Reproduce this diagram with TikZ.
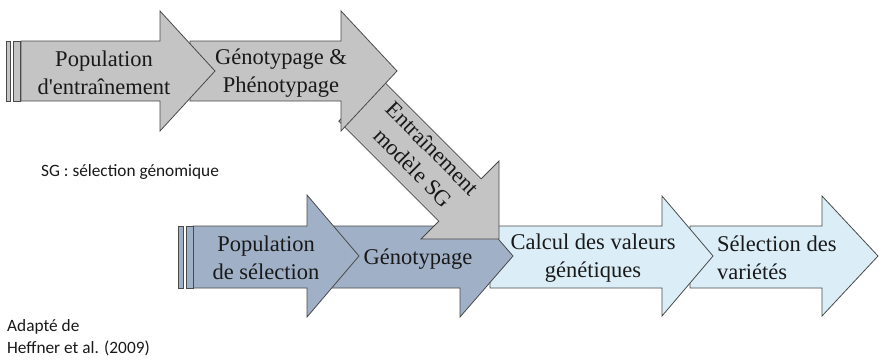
\documentclass[tikz,border=0pt]{standalone}
\usepackage{fontspec}
\setmainfont{Liberation Serif}
\newfontfamily\calibri{Carlito}
\definecolor{topgray}{HTML}{C4C4C4}
\definecolor{bluegray}{HTML}{A0B0C6}
\definecolor{lightblue}{HTML}{DBEEF8}
\definecolor{edge}{HTML}{4A4A4A}
\tikzset{
  blk/.style={draw=edge, line width=0.8pt, line join=miter},
  lbl/.style={font=\fontsize{22.5}{27.5}\selectfont, align=center, text=black!90, inner sep=0pt},
  note/.style={font=\calibri\fontsize{17.3}{22}\selectfont, align=left, anchor=west, inner sep=0pt, text=black!90}
}
\begin{document}
\begin{tikzpicture}[x=1pt,y=-1pt]
\useasboundingbox (0,0) rectangle (880,360);
% bottom row (drawn back to front)
\path[blk, fill=lightblue] (690,226) -- (822,226) -- (822,196) -- (878,256) -- (822,316) -- (822,288) -- (690,288) -- cycle;
\path[blk, fill=lightblue] (490,226) -- (662,226) -- (662,196) -- (713,256) -- (662,316) -- (662,288) -- (490,288) -- cycle;
\path[blk, fill=bluegray] (330,226) -- (460,226) -- (460,195) -- (513,256) -- (460,317) -- (460,288) -- (330,288) -- cycle;
\path[blk, fill=bluegray] (193,226) -- (307,226) -- (307,195) -- (359,256) -- (307,317) -- (307,288) -- (193,288) -- cycle;
\path[blk, fill=bluegray] (178,226) rectangle (183,288);
\path[blk, fill=bluegray] (186,226) rectangle (193,288);
% diagonal arrow
\path[blk, fill=topgray] (381.2,78.8) -- (481.2,178.8) -- (499,161) -- (499,239) -- (421,239) -- (438.8,221.2) -- (338.8,121.2) -- cycle;
% top row
\path[blk, fill=topgray] (190,41) -- (341,41) -- (341,11) -- (397,71) -- (341,131) -- (341,101) -- (190,101) -- cycle;
\path[blk, fill=topgray] (21,41) -- (160,41) -- (160,11) -- (215,71) -- (160,131) -- (160,101) -- (21,101) -- cycle;
\path[blk, fill=topgray] (6,41) rectangle (10,101);
\path[blk, fill=topgray] (13,41) rectangle (20,101);
% labels
\node[lbl] (t1) at (104,73) {Population\\d\textquotesingle entraînement};
\node[lbl] (t2) at (281,73) {Génotypage \&\\Phénotypage};
\node[lbl, rotate=-45] (t3) at (423,158) {Entraînement\\modèle SG};
\node[lbl] (b1) at (266,258) {Population\\de sélection};
\node[lbl] (b2) at (418,259) {Génotypage};
\node[lbl] (b3) at (593,258) {Calcul des valeurs\\génétiques};
\node[lbl, align=left, anchor=west] (b4) at (717,258) {Sélection des\\variétés};
% notes
\node[note] (sg) at (41,172) {SG : sélection génomique};
\node[note] (src) at (7,338) {Adapté de\\Heffner et al. (2009)};
\end{tikzpicture}
\end{document}
